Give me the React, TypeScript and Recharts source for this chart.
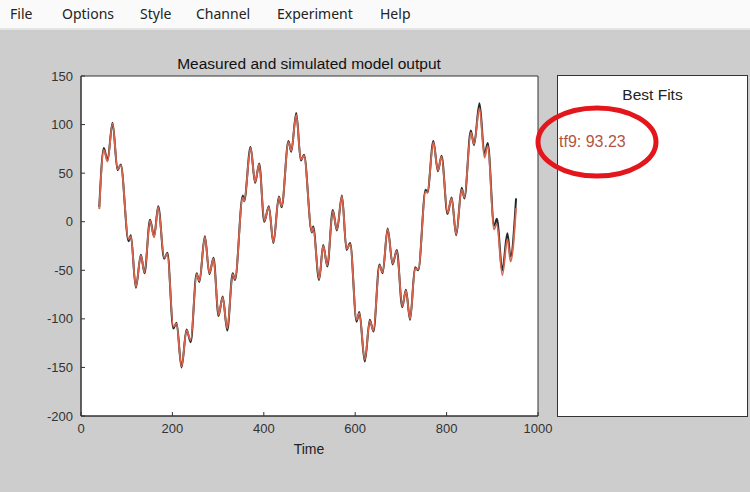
import React from "react";
import {
  LineChart,
  Line,
  XAxis,
  YAxis,
  ReferenceArea,
} from "recharts";

// sample times (extrema)
const time = [
  40, 50, 58, 69, 80, 87, 104, 109, 120, 131, 139, 151, 160, 169, 182, 189,
  202, 209, 220, 231, 240, 253, 259, 271, 281, 290, 301, 310, 320, 332, 337,
  354, 357, 371, 381, 390, 401, 411, 421, 433, 439, 454, 460, 471, 481, 488,
  505, 508, 521, 530, 539, 551, 560, 571, 581, 589, 603, 609, 621, 632, 640,
  653, 660, 671, 682, 691, 703, 711, 720, 731, 738, 754, 758, 771, 781, 789,
  802, 811, 821, 833, 839, 853, 860, 872, 883, 890, 904, 910, 922, 933, 940,
  952,
];

const measured = [
  15, 76, 63, 102, 53, 59, -20, -14, -68, -34, -53, 2, -15, 16, -38, -32,
  -110, -104, -150, -111, -124, -53, -62, -15, -54, -37, -97, -77, -112, -53,
  -60, 27, 21, 77, 40, 60, 0, 16, -22, 26, 15, 83, 72, 112, 63, 69, -11, -5,
  -60, -24, -46, 12, -9, 27, -29, -22, -103, -93, -144, -101, -113, -44, -53,
  -7, -44, -29, -88, -70, -101, -47, -50, 33, 30, 83, 52, 68, 8, 25, -14, 35,
  24, 94, 79, 122, 69, 81, -4, 3, -50, -12, -36, 24,
];

const simulated = [
  13, 74, 62, 101, 54, 58, -18, -15, -67, -35, -52, 1, -16, 15, -37, -33,
  -108, -105, -149, -112, -122, -54, -61, -16, -53, -38, -96, -78, -110, -54,
  -59, 25, 21, 76, 41, 59, 1, 15, -21, 25, 16, 82, 73, 110, 64, 68, -10, -6,
  -59, -25, -45, 11, -8, 26, -28, -23, -101, -94, -142, -102, -112, -45, -52,
  -8, -43, -30, -87, -71, -100, -48, -49, 31, 30, 82, 53, 67, 9, 24, -13, 33,
  25, 92, 80, 117, 66, 78, -8, -2, -55, -18, -41, 14,
];

const xTicks = [0, 200, 400, 600, 800, 1000];
const yTicks = [-200, -150, -100, -50, 0, 50, 100, 150];
const menuItems = ["File", "Options", "Style", "Channel", "Experiment", "Help"];
const menuX = [10, 62, 140, 196, 277, 380];

const data = time.map((t, i) => ({
  time: t,
  measured: measured[i],
  simulated: simulated[i],
}));

const axisFont = {
  fontFamily: "Liberation Sans, Arial, sans-serif",
  fontSize: 13,
  fill: "#333",
};

export default function App() {
  return (
    <div
      style={{
        position: "absolute",
        left: 0,
        top: 0,
        width: 750,
        height: 492,
        background: "#cdcdcd",
        overflow: "hidden",
        fontFamily: "Liberation Sans, Arial, sans-serif",
      }}
    >
      {/* menu bar */}
      <div
        style={{
          position: "absolute",
          left: 0,
          top: 0,
          width: 750,
          height: 28,
          background: "#fafafa",
          borderBottom: "2px solid #e4e4e4",
        }}
      >
        {menuItems.map((m, i) => (
          <span
            key={m}
            style={{
              position: "absolute",
              left: menuX[i],
              top: 4,
              fontFamily: "Noto Sans, sans-serif",
              fontSize: 14,
              color: "#222",
            }}
          >
            {m}
          </span>
        ))}
      </div>

      <div
        style={{
          position: "absolute",
          left: 0,
          top: 55,
          width: 618,
          textAlign: "center",
          fontSize: 15.5,
          color: "#111",
        }}
      >
        Measured and simulated model output
      </div>

      <LineChart
        width={750}
        height={492}
        data={data}
        margin={{ top: 76, right: 212, bottom: 46, left: 31 }}
        style={{ position: "absolute", left: 0, top: 0 }}
      >
        <XAxis
          dataKey="time"
          type="number"
          domain={[0, 1000]}
          ticks={xTicks}
          height={30}
          tickSize={-4}
          tickMargin={12}
          axisLine={{ stroke: "#333" }}
          tickLine={{ stroke: "#333" }}
          tick={axisFont}
        />
        <XAxis
          xAxisId="top"
          orientation="top"
          type="number"
          domain={[0, 1000]}
          ticks={xTicks}
          height={0}
          tickSize={-4}
          tickFormatter={() => ""}
          axisLine={{ stroke: "#333" }}
          tickLine={{ stroke: "#333" }}
        />
        <YAxis
          type="number"
          domain={[-200, 150]}
          ticks={yTicks}
          width={50}
          tickSize={-4}
          tickMargin={12}
          axisLine={{ stroke: "#333" }}
          tickLine={{ stroke: "#333" }}
          tick={axisFont}
        />
        <YAxis
          yAxisId="right"
          orientation="right"
          type="number"
          domain={[-200, 150]}
          ticks={yTicks}
          width={0}
          tickSize={-4}
          tickFormatter={() => ""}
          axisLine={{ stroke: "#333" }}
          tickLine={{ stroke: "#333" }}
        />
        <ReferenceArea
          x1={0}
          x2={1000}
          y1={-200}
          y2={150}
          fill="#fff"
          fillOpacity={1}
          stroke="#333"
        />
        <Line
          type="monotone"
          dataKey="measured"
          stroke="#1e2a2a"
          strokeWidth={2}
          dot={false}
          isAnimationActive={false}
        />
        <Line
          type="monotone"
          dataKey="simulated"
          stroke="#d8654e"
          strokeWidth={1.8}
          dot={false}
          isAnimationActive={false}
        />
      </LineChart>

      <div
        style={{
          position: "absolute",
          left: 0,
          top: 441,
          width: 618,
          textAlign: "center",
          fontSize: 14,
          color: "#222",
        }}
      >
        Time
      </div>

      {/* Best Fits panel */}
      <div
        style={{
          position: "absolute",
          left: 557,
          top: 75,
          width: 189,
          height: 340,
          background: "#fff",
          border: "1px solid #333",
        }}
      >
        <div
          style={{
            position: "absolute",
            left: 0,
            top: 10,
            width: 189,
            textAlign: "center",
            fontSize: 15.5,
            color: "#222",
          }}
        >
          Best Fits
        </div>
        <div
          style={{
            position: "absolute",
            left: 1,
            top: 57,
            fontSize: 16,
            color: "#b4553f",
          }}
        >
          tf9: 93.23
        </div>
      </div>

      <svg
        width={750}
        height={492}
        style={{ position: "absolute", left: 0, top: 0, pointerEvents: "none" }}
      >
        <ellipse
          cx={597}
          cy={142}
          rx={59}
          ry={34}
          fill="none"
          stroke="#e3161b"
          strokeWidth={5}
        />
      </svg>
    </div>
  );
}
